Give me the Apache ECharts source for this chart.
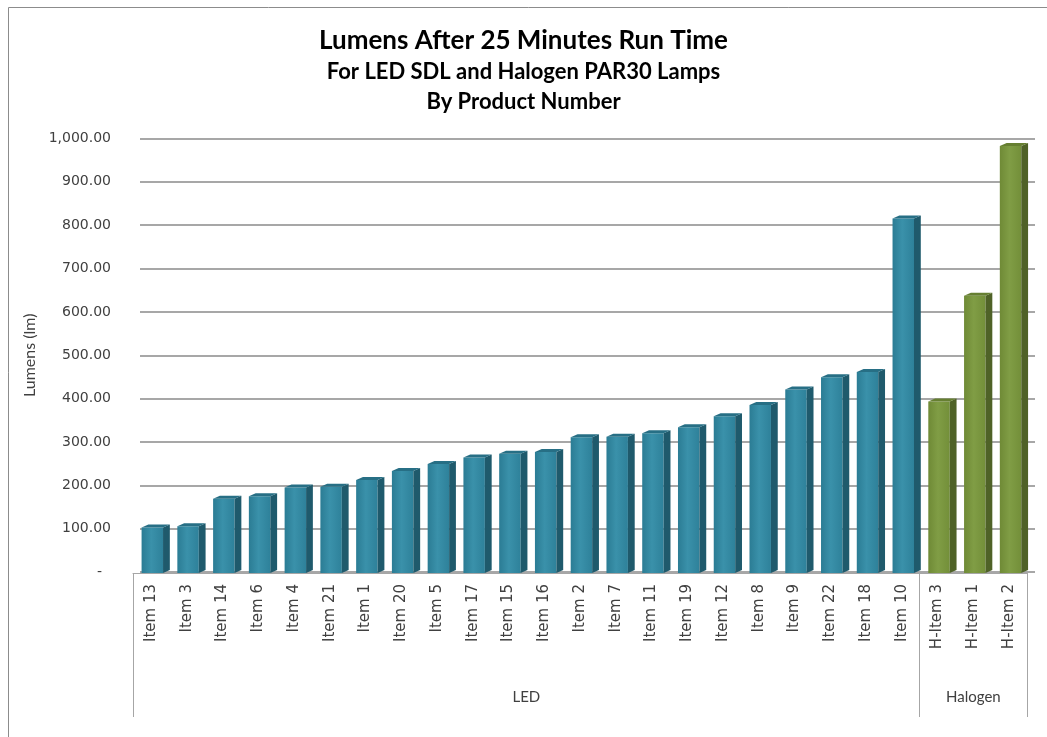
<!DOCTYPE html>
<html>
<head>
<meta charset="utf-8">
<script src="https://cdn.jsdelivr.net/npm/echarts@6/dist/echarts.min.js"></script>
<style>
  html, body { margin: 0; padding: 0; background: #fff; }
  #chart { width: 1047px; height: 737px; }
</style>
</head>
<body>
<div id="chart"></div>
<script>
// products, sorted the way they appear on the chart
const items = ['Item 13', 'Item 3', 'Item 14', 'Item 6', 'Item 4', 'Item 21', 'Item 1', 'Item 20',
  'Item 5', 'Item 17', 'Item 15', 'Item 16', 'Item 2', 'Item 7', 'Item 11', 'Item 19', 'Item 12',
  'Item 8', 'Item 9', 'Item 22', 'Item 18', 'Item 10', 'H-Item 3', 'H-Item 1', 'H-Item 2'];
// lumens after 25 min
const lumens = [105, 108, 171, 177, 197, 199, 214, 235, 251, 266, 275, 279, 313, 314, 322, 336,
  361, 387, 423, 451, 463, 817, 395, 639, 984];
// lamp groups and how many products in each
const groupNames = ['LED', 'Halogen'];
const groupSizes = [22, 3];
const yTicks = [0, 100, 200, 300, 400, 500, 600, 700, 800, 900, 1000];

// colours per group: front / side / top
const palette = [
  { front: ['#2b7c94', '#3a91aa', '#2e819a'], side: '#1f5a6c', top: '#276f85' },
  { front: ['#6f8a36', '#809d45', '#738f39'], side: '#4f6227', top: '#667f31' }
];

// group index for each item + boundaries for the category box
const groupOf = [];
const bounds = [0];
groupSizes.forEach((n, g) => {
  for (let i = 0; i < n; i++) groupOf.push(g);
  bounds.push(bounds[bounds.length - 1] + n);
});
const groupCenters = groupSizes.map((n, g) => bounds[g] + n / 2);

const seriesData = items.map((name, i) => [i, lumens[i], groupOf[i]]);

// 3d-ish column: front face, right side, top
function renderBar(params, api) {
  const idx = api.value(0);
  const val = api.value(1);
  const c = palette[api.value(2)];
  const base = api.coord([idx, 0]);
  const top = api.coord([idx, val]);
  const bw = api.size([1, 0])[0];
  const w = bw * 0.6;
  const x0 = base[0] - bw * 0.26;
  const d = bw * 0.19;
  const dy = 3;
  return {
    type: 'group',
    children: [
      {
        type: 'rect',
        shape: { x: x0, y: top[1], width: w, height: base[1] - top[1] },
        style: {
          fill: new echarts.graphic.LinearGradient(0, 0, 1, 0, [
            { offset: 0, color: c.front[0] },
            { offset: 0.45, color: c.front[1] },
            { offset: 1, color: c.front[2] }
          ])
        }
      },
      {
        type: 'polygon',
        shape: { points: [[x0 + w, top[1]], [x0 + w + d, top[1] - dy], [x0 + w + d, base[1] - dy], [x0 + w, base[1]]] },
        style: { fill: c.side }
      },
      {
        type: 'polygon',
        shape: { points: [[x0, top[1]], [x0 + d, top[1] - dy], [x0 + w + d, top[1] - dy], [x0 + w, top[1]]] },
        style: { fill: c.top }
      }
    ]
  };
}

const chart = echarts.init(document.getElementById('chart'));

const options = {
  backgroundColor: '#fff',
  animation: false,
  title: [
    {
      text: 'Lumens After 25 Minutes Run Time',
      left: 'center', top: 23,
      textStyle: { fontFamily: 'Lato', fontWeight: 'bold', fontSize: 26, color: '#000' }
    },
    {
      text: 'For LED SDL and Halogen PAR30 Lamps',
      left: 'center', top: 56,
      textStyle: { fontFamily: 'Lato', fontWeight: 'bold', fontSize: 22, color: '#000' }
    },
    {
      text: 'By Product Number',
      left: 'center', top: 86,
      textStyle: { fontFamily: 'Lato', fontWeight: 'bold', fontSize: 22, color: '#000' }
    }
  ],
  graphic: [
    {
      type: 'rect', silent: true,
      shape: { x: 8.5, y: 7.5, width: 1100, height: 800 },
      style: { fill: 'none', stroke: '#8c8c8c', lineWidth: 1 }
    }
  ],
  grid: [
    // back wall (gridlines)
    { left: 140, right: 12, top: 138.5, bottom: 165 },
    // front (columns + category axis)
    { left: 133, right: 20, top: 139, bottom: 164 }
  ],
  xAxis: [
    { gridIndex: 0, type: 'category', data: items, show: false },
    {
      gridIndex: 1, type: 'category', data: items,
      axisLine: { lineStyle: { color: '#a6a6a6', width: 1 } },
      axisTick: { show: false },
      axisLabel: {
        rotate: 90, margin: 11, interval: 0,
        fontFamily: 'DejaVu Sans', fontSize: 15, color: '#404040'
      }
    },
    {
      gridIndex: 1, type: 'value', min: 0, max: items.length, position: 'bottom',
      axisLine: { show: false },
      splitLine: { show: false },
      axisTick: {
        show: true, customValues: bounds, length: 144,
        lineStyle: { color: '#a6a6a6', width: 1 }
      },
      axisLabel: {
        customValues: groupCenters, margin: 117,
        formatter: v => groupNames[groupCenters.indexOf(v)] || '',
        fontFamily: 'Lato', fontSize: 15, color: '#404040'
      }
    }
  ],
  yAxis: [
    {
      gridIndex: 0, type: 'value', min: 0, max: 1000, interval: 100,
      name: 'Lumens (lm)', nameLocation: 'middle', nameGap: 97, nameRotate: 90,
      nameTextStyle: { fontFamily: 'Lato', fontSize: 16, color: '#404040' },
      axisLine: { show: false },
      axisTick: { show: false },
      splitLine: { lineStyle: { color: '#8a8a8a', width: 1.5 } },
      axisLabel: {
        margin: 29, fontFamily: 'DejaVu Sans', fontSize: 14, color: '#404040',
        customValues: yTicks,
        formatter: v => v === 0 ? '-  ' : v.toLocaleString('en-US', { minimumFractionDigits: 2, maximumFractionDigits: 2 })
      }
    },
    { gridIndex: 1, type: 'value', min: 0, max: 1000, interval: 100, show: false }
  ],
  series: [
    {
      type: 'custom',
      xAxisIndex: 1,
      yAxisIndex: 1,
      renderItem: renderBar,
      data: seriesData,
      encode: { x: 0, y: 1 }
    }
  ]
};

chart.setOption(options);
</script>
</body>
</html>
